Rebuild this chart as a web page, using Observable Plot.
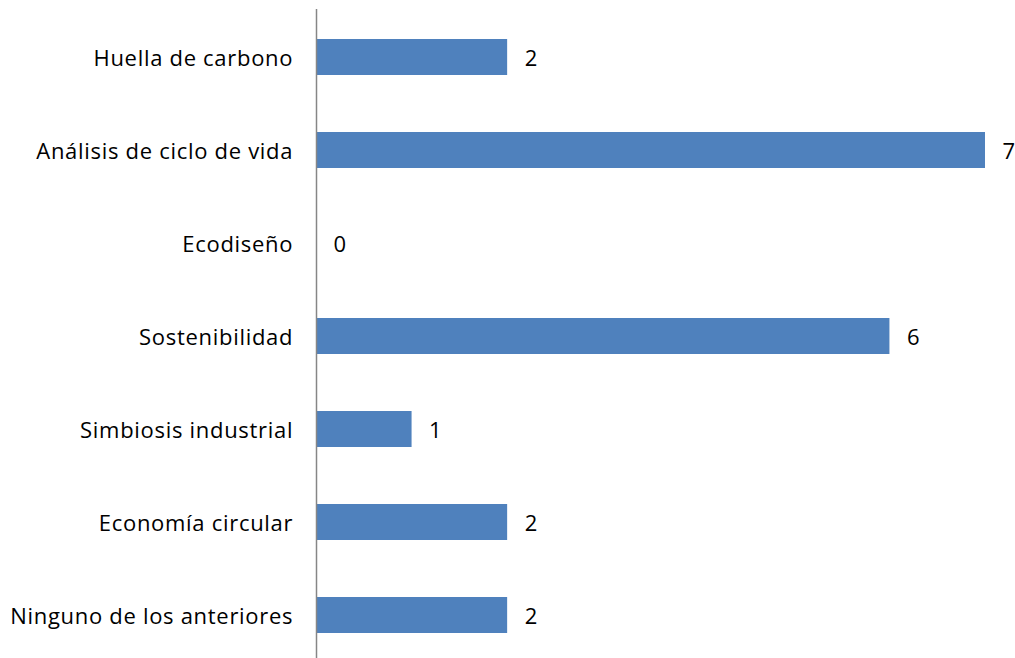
<!DOCTYPE html>
<html>
<head>
<meta charset="utf-8">
<script src="https://cdn.jsdelivr.net/npm/d3@7"></script>
<script src="https://cdn.jsdelivr.net/npm/@observablehq/plot@0.6"></script>
<style>
  html, body { margin: 0; padding: 0; background: #fff; }
  #chart svg { display: block; }
  #chart svg text { letter-spacing: 0.7px; }
</style>
</head>
<body>
<div id="chart"></div>
<script>
const categories = [
  "Huella de carbono",
  "Análisis de ciclo de vida",
  "Ecodiseño",
  "Sostenibilidad",
  "Simbiosis industrial",
  "Economía circular",
  "Ninguno de los anteriores"
];
const values = [2, 7, 0, 6, 1, 2, 2];

const data = categories.map((c, i) => ({category: c, value: values[i]}));

const font = "'Open Sans', sans-serif";

const chart = Plot.plot({
  width: 1015,
  height: 658,
  marginLeft: 316,
  marginRight: 0,
  marginTop: 9,
  marginBottom: 0,
  style: {fontFamily: font, fontSize: "22px", background: "#fff"},
  x: {domain: [0, 7], range: [316, 985], axis: null},
  y: {domain: categories, range: [9.4, 661.6], paddingInner: 0.614, paddingOuter: 0.307, axis: null},
  marks: [
    Plot.barX(data, {x: "value", y: "category", fill: "#4F81BD"}),
    Plot.ruleX([0], {stroke: "#868686", strokeWidth: 1.5}),
    Plot.axisY({tickSize: 0, tickPadding: 23.3, fontSize: 22, fill: "#000", label: null, dy: 1}),
    Plot.text(data, {x: "value", y: "category", text: d => String(d.value), textAnchor: "start", dx: 17, dy: 1, fontSize: 22, fill: "#000"})
  ]
});
document.getElementById("chart").appendChild(chart);
</script>
</body>
</html>
